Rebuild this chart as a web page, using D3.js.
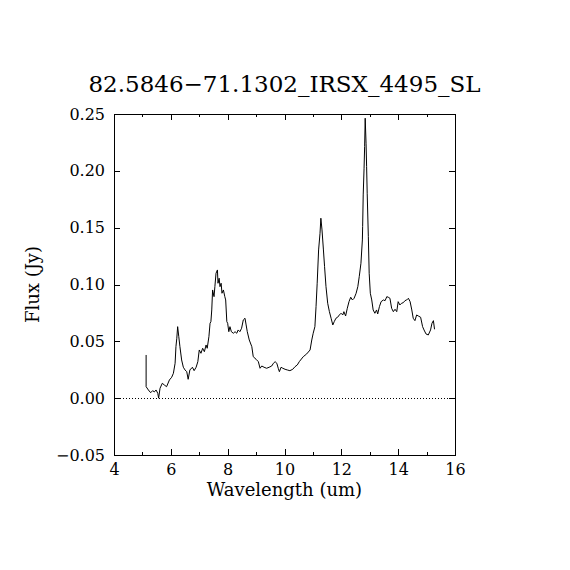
<!DOCTYPE html>
<html>
<head>
<meta charset="utf-8">
<script src="https://cdn.jsdelivr.net/npm/d3@7"></script>
<style>
  body { margin: 0; background: #fff; }
  text { font-family: "DejaVu Serif", serif; fill: #000; }
</style>
</head>
<body>
<div id="chart"></div>
<script>
'use strict'

// spectrum
const wavelength = [
  5.13, 5.13, 5.21, 5.29, 5.36, 5.42, 5.48, 5.54, 5.57, 5.62,
  5.70, 5.77, 5.85, 5.95, 6.03, 6.09, 6.15, 6.18, 6.21, 6.24,
  6.28, 6.32, 6.38, 6.44, 6.50, 6.56, 6.61, 6.67, 6.76, 6.82,
  6.89, 6.95, 7.00, 7.06, 7.12, 7.18, 7.24, 7.28, 7.34, 7.38,
  7.41, 7.44, 7.47, 7.52, 7.55, 7.59, 7.64, 7.66, 7.70, 7.73,
  7.77, 7.80, 7.85, 7.90, 7.93, 7.97, 8.00, 8.04, 8.08, 8.13,
  8.20, 8.26, 8.32, 8.37, 8.43, 8.49, 8.55, 8.61, 8.65, 8.69,
  8.76, 8.85, 8.90, 9.00, 9.08, 9.14, 9.20, 9.28, 9.37, 9.46,
  9.55, 9.61, 9.67, 9.73, 9.78, 9.82, 9.88, 9.94, 10.02, 10.10,
  10.19, 10.29, 10.37, 10.45, 10.52, 10.66, 10.78, 10.90, 10.96, 11.01,
  11.07, 11.11, 11.15, 11.20, 11.25, 11.28, 11.32, 11.37, 11.41, 11.46,
  11.52, 11.58, 11.64, 11.70, 11.75, 11.81, 11.87, 11.93, 11.99, 12.05,
  12.09, 12.15, 12.21, 12.27, 12.33, 12.39, 12.45, 12.52, 12.58, 12.63,
  12.69, 12.74, 12.75, 12.77, 12.80, 12.82, 12.84, 12.87, 12.89, 12.91,
  12.95, 12.98, 13.02, 13.07, 13.12, 13.18, 13.24, 13.28, 13.34, 13.40,
  13.48, 13.54, 13.60, 13.65, 13.71, 13.77, 13.83, 13.89, 13.95, 14.00,
  14.06, 14.12, 14.18, 14.24, 14.30, 14.36, 14.42, 14.48, 14.53, 14.59,
  14.65, 14.71, 14.79, 14.86, 14.91, 14.98, 15.06, 15.14, 15.19, 15.24,
  15.28
];

const flux = [
  0.0380, 0.0101, 0.0072, 0.0048, 0.0066, 0.0055, 0.0072, 0.0043, 0.0000, 0.0087,
  0.0131, 0.0116, 0.0101, 0.0160, 0.0184, 0.0219, 0.0307, 0.0453, 0.0527, 0.0629,
  0.0541, 0.0453, 0.0336, 0.0272, 0.0248, 0.0233, 0.0166, 0.0248, 0.0272, 0.0242,
  0.0272, 0.0321, 0.0424, 0.0395, 0.0439, 0.0409, 0.0468, 0.0439, 0.0541, 0.0659,
  0.0673, 0.0776, 0.0952, 0.0893, 0.0981, 0.1099, 0.1128, 0.1011, 0.1055, 0.0981,
  0.1011, 0.0923, 0.0952, 0.0893, 0.0864, 0.0673, 0.0659, 0.0585, 0.0629, 0.0585,
  0.0571, 0.0585, 0.0571, 0.0600, 0.0585, 0.0615, 0.0688, 0.0703, 0.0644, 0.0585,
  0.0512, 0.0453, 0.0365, 0.0342, 0.0321, 0.0263, 0.0283, 0.0272, 0.0263, 0.0272,
  0.0283, 0.0307, 0.0321, 0.0307, 0.0263, 0.0233, 0.0272, 0.0263, 0.0254, 0.0248,
  0.0242, 0.0254, 0.0277, 0.0292, 0.0321, 0.0365, 0.0389, 0.0424, 0.0512, 0.0571,
  0.0629, 0.0805, 0.1011, 0.1304, 0.1451, 0.1583, 0.1480, 0.1304, 0.1157, 0.0981,
  0.0835, 0.0761, 0.0703, 0.0644, 0.0673, 0.0703, 0.0712, 0.0732, 0.0747, 0.0732,
  0.0761, 0.0723, 0.0791, 0.0849, 0.0888, 0.0864, 0.0879, 0.0923, 0.0981, 0.1069,
  0.1187, 0.1392, 0.1509, 0.1788, 0.2023, 0.2213, 0.2463, 0.2243, 0.2037, 0.1803,
  0.1421, 0.1099, 0.0923, 0.0864, 0.0776, 0.0747, 0.0776, 0.0741, 0.0805, 0.0849,
  0.0864, 0.0858, 0.0893, 0.0888, 0.0879, 0.0791, 0.0761, 0.0782, 0.0761, 0.0849,
  0.0820, 0.0835, 0.0840, 0.0858, 0.0864, 0.0879, 0.0849, 0.0776, 0.0703, 0.0682,
  0.0732, 0.0723, 0.0712, 0.0629, 0.0600, 0.0565, 0.0556, 0.0600, 0.0659, 0.0682,
  0.0606
];

const xMajorTicks = [4, 6, 8, 10, 12, 14, 16];
const xMinorTicks = [5, 7, 9, 11, 13, 15];
const yTicks = [-0.05, 0.00, 0.05, 0.10, 0.15, 0.20, 0.25];

const title = '82.5846\u221271.1302_IRSX_4495_SL';
const xTitle = 'Wavelength (um)';
const yTitle = 'Flux (Jy)';

const width = 570;
const height = 570;
const margin = { top: 114, right: 115, bottom: 115, left: 114 };

const svg = d3.select('#chart').append('svg')
  .attr('width', width)
  .attr('height', height);

const x = d3.scaleLinear()
  .domain([4, 16])
  .range([margin.left, width - margin.right]);

const y = d3.scaleLinear()
  .domain([-0.05, 0.25])
  .range([height - margin.bottom, margin.top]);

const points = wavelength.map((w, i) => ({ w: w, f: flux[i] }));

// zero line
svg.append('line')
  .attr('x1', x(4)).attr('x2', x(16))
  .attr('y1', Math.round(y(0)) + 0.5).attr('y2', Math.round(y(0)) + 0.5)
  .attr('stroke', '#000')
  .attr('stroke-width', 1)
  .attr('stroke-dasharray', '1,2');

// spectrum
const line = d3.line()
  .x(d => x(d.w))
  .y(d => y(d.f));

svg.append('path')
  .datum(points)
  .attr('d', line)
  .attr('fill', 'none')
  .attr('stroke', '#000')
  .attr('stroke-width', 1);

// axes, ticks pointing inward
function styleAxis(g, labels) {
  g.select('.domain').remove();
  g.selectAll('.tick line').attr('stroke', '#000').attr('shape-rendering', 'crispEdges');
  if (labels) {
    g.selectAll('.tick text')
      .attr('font-family', '"DejaVu Serif", serif')
      .attr('font-size', 16)
      .attr('fill', '#000');
  } else {
    g.selectAll('.tick text').remove();
  }
}

const yBottom = height - margin.bottom;
const xRight = width - margin.right;

svg.append('g')
  .attr('transform', `translate(0,${yBottom})`)
  .call(d3.axisBottom(x).tickValues(xMajorTicks).tickSize(-6).tickPadding(9).tickFormat(d3.format('d')))
  .call(g => styleAxis(g, true));

svg.append('g')
  .attr('transform', `translate(0,${yBottom})`)
  .call(d3.axisBottom(x).tickValues(xMinorTicks).tickSize(-3))
  .call(g => styleAxis(g, false));

svg.append('g')
  .attr('transform', `translate(0,${margin.top})`)
  .call(d3.axisTop(x).tickValues(xMajorTicks).tickSize(-6))
  .call(g => styleAxis(g, false));

svg.append('g')
  .attr('transform', `translate(0,${margin.top})`)
  .call(d3.axisTop(x).tickValues(xMinorTicks).tickSize(-3))
  .call(g => styleAxis(g, false));

svg.append('g')
  .attr('transform', `translate(${margin.left},0)`)
  .call(d3.axisLeft(y).tickValues(yTicks).tickSize(-6).tickPadding(9).tickFormat(d3.format('.2f')))
  .call(g => styleAxis(g, true));

svg.append('g')
  .attr('transform', `translate(${xRight},0)`)
  .call(d3.axisRight(y).tickValues(yTicks).tickSize(-6))
  .call(g => styleAxis(g, false));

// frame
svg.append('rect')
  .attr('x', margin.left + 0.5)
  .attr('y', margin.top + 0.5)
  .attr('width', xRight - margin.left)
  .attr('height', yBottom - margin.top)
  .attr('fill', 'none')
  .attr('stroke', '#000')
  .attr('stroke-width', 1)
  .attr('shape-rendering', 'crispEdges');

// titles
svg.append('text')
  .attr('x', (margin.left + xRight) / 2)
  .attr('y', 92)
  .attr('text-anchor', 'middle')
  .attr('font-size', 23)
  .text(title);

svg.append('text')
  .attr('x', (margin.left + xRight) / 2)
  .attr('y', 496)
  .attr('text-anchor', 'middle')
  .attr('font-size', 18)
  .text(xTitle);

svg.append('text')
  .attr('transform', `translate(39,${(margin.top + yBottom) / 2}) rotate(-90)`)
  .attr('text-anchor', 'middle')
  .attr('font-size', 18)
  .text(yTitle);
</script>
</body>
</html>
